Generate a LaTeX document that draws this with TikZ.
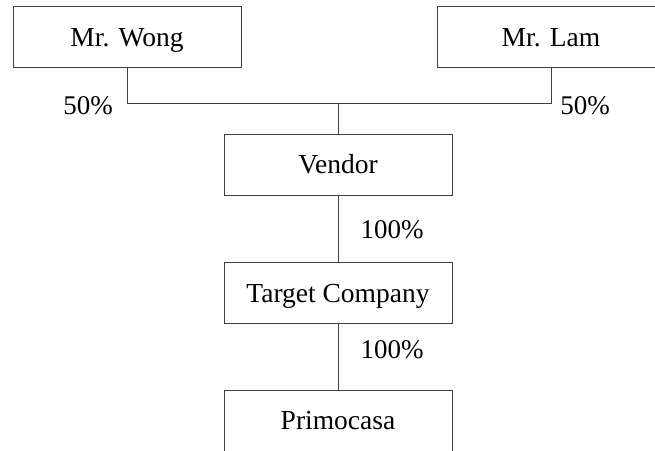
\documentclass[tikz,border=0pt]{standalone}
\usepackage{fontspec}
\setmainfont{Liberation Serif}
\usepackage{tikz}

\begin{document}
\begin{tikzpicture}[x=1pt, y=-1pt,
        box/.style={draw=black!75, line width=1pt, minimum width=228pt, minimum height=61pt, inner sep=0pt, text height=18.2pt, text depth=0pt, font=\fontsize{27.5}{32}\selectfont},
        share/.style={font=\fontsize{27}{32}\selectfont},
        link/.style={draw=black!75, line width=1pt}]
        \useasboundingbox (0, 0) rectangle (655, 450);
        \clip (0, 0) rectangle (655, 450);

        \node[box] (wong) at (127, 37) {Mr. Wong};
        \node[box] (lam) at (551, 37) {Mr. Lam};
        \node[box] (vendor) at (338, 164.5) {Vendor};
        \node[box] (target) at (338, 293) {Target Company};
        \node[box] (primo) at (338, 420.5) {Primocasa};

        \coordinate (split) at (338, 103);

        \draw[link] (wong.south) |- (split);
        \draw[link] (split) -| (lam.south);
        \draw[link] (split) -- (vendor.north);
        \draw[link] (vendor.south) -- (target.north);
        \draw[link] (target.south) -- (primo.north);

        \node[share] (wongshare) at (88, 106) {50\%};
        \node[share] (lamshare) at (585, 106) {50\%};
        \node[share] (vendorshare) at (392, 230) {100\%};
        \node[share] (targetshare) at (392, 350) {100\%};
    \end{tikzpicture}
\end{document}
